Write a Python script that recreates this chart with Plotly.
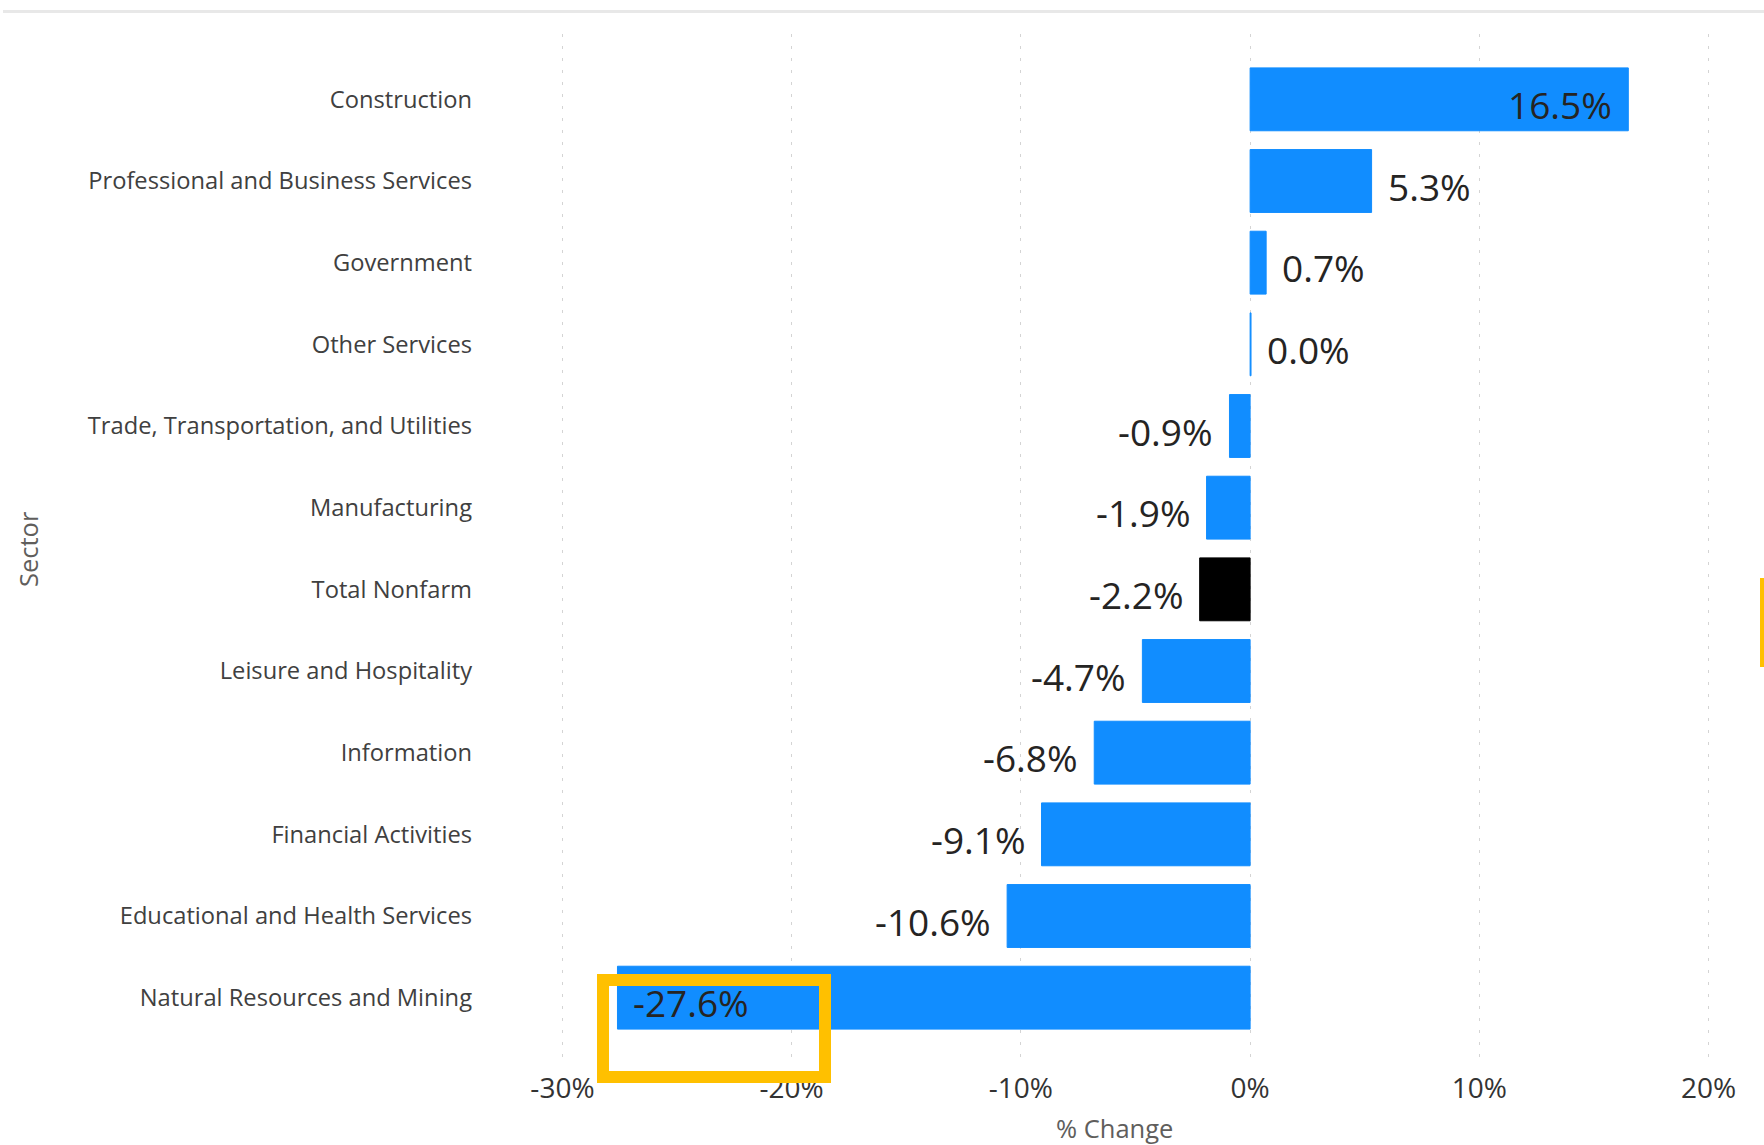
import plotly.graph_objects as go

# ---- data ----
sectors = [
    "Construction",
    "Professional and Business Services",
    "Government",
    "Other Services",
    "Trade, Transportation, and Utilities",
    "Manufacturing",
    "Total Nonfarm",
    "Leisure and Hospitality",
    "Information",
    "Financial Activities",
    "Educational and Health Services",
    "Natural Resources and Mining",
]
pct_change = [16.5, 5.3, 0.7, 0.04, -0.9, -1.9, -2.2, -4.7, -6.8, -9.1, -10.6, -27.6]
x_ticks = [-30, -20, -10, 0, 10, 20]
highlight_sector = "Total Nonfarm"

# ---- styling ----
W_FIG, H_FIG = 1764, 1145
L, R, T, B = 551, 44, 34, 82
X_RANGE = [-30.5, 20.5]
BLUE = "#118DFF"
BLACK = "#000000"
FONT = "Open Sans"
LABEL_SIZE = 37

plot_w = W_FIG - L - R
plot_h = H_FIG - T - B
px_per_unit = plot_w / (X_RANGE[1] - X_RANGE[0])


def px_x(x):
    return (x - L) / plot_w


def px_y(y):
    return (H_FIG - B - y) / plot_h


colors = [BLACK if s == highlight_sector else BLUE for s in sectors]

fig = go.Figure(
    go.Bar(
        y=sectors,
        x=pct_change,
        orientation="h",
        marker=dict(color=colors, line=dict(color=colors, width=1)),
        hoverinfo="skip",
    )
)

# data labels
annotations = []
gap = 14
for s, v in zip(sectors, pct_change):
    txt = f"{v:.1f}%"
    est_w = len(txt) * 0.55 * LABEL_SIZE
    reach = v + (1 if v >= 0 else -1) * (gap + est_w) / px_per_unit
    inside = reach > X_RANGE[1] or reach < X_RANGE[0]
    if v >= 0:
        anchor, shift = ("right", -gap) if inside else ("left", gap)
    else:
        anchor, shift = ("left", gap) if inside else ("right", -gap)
    annotations.append(
        dict(
            x=v, y=s, xref="x", yref="y", text=txt, showarrow=False,
            xanchor=anchor, xshift=shift, yshift=-5, yanchor="middle",
            font=dict(family=FONT, size=LABEL_SIZE, color="#252423"),
        )
    )

# axis titles
annotations.append(
    dict(x=px_x(1114), y=px_y(1128), xref="paper", yref="paper", text="% Change",
         showarrow=False, xanchor="center", yanchor="middle",
         font=dict(family=FONT, size=25.5, color="#605E5C"))
)
annotations.append(
    dict(x=px_x(28), y=px_y(549), xref="paper", yref="paper", text="Sector",
         showarrow=False, xanchor="center", yanchor="middle", textangle=-90,
         font=dict(family=FONT, size=25.5, color="#605E5C"))
)

shapes = [
    # top separator line
    dict(type="rect", xref="paper", yref="paper", x0=px_x(3), x1=px_x(1764),
         y0=px_y(10), y1=px_y(13), fillcolor="#E8E8E8", line=dict(width=0)),
    # yellow highlight box
    dict(type="rect", xref="paper", yref="paper", x0=px_x(603), x1=px_x(825),
         y0=px_y(980), y1=px_y(1077), line=dict(color="#FFC000", width=12),
         fillcolor="rgba(0,0,0,0)", layer="above"),
    # yellow mark at right edge
    dict(type="rect", xref="paper", yref="paper", x0=px_x(1760), x1=px_x(1764),
         y0=px_y(578), y1=px_y(667), fillcolor="#FFC000",
         line=dict(width=0), layer="above"),
]

fig.update_layout(
    width=W_FIG, height=H_FIG,
    margin=dict(l=L, r=R, t=T, b=B, pad=0),
    paper_bgcolor="white", plot_bgcolor="white",
    bargap=0.23,
    showlegend=False,
    annotations=annotations,
    shapes=shapes,
    font=dict(family=FONT),
)
fig.update_xaxes(
    range=X_RANGE, tickvals=x_ticks, ticktext=[f"{t}%" for t in x_ticks],
    showgrid=True, gridcolor="#D4D4D4", griddash="3px,9px", gridwidth=1,
    zeroline=False, showline=False, ticks="",
    tickfont=dict(family=FONT, size=28, color="#333333"),
    ticklabelstandoff=6,
)
fig.update_yaxes(
    categoryorder="array", categoryarray=sectors,
    range=[len(sectors) - 0.2, -0.8],
    showgrid=False, zeroline=False, showline=False, ticks="",
    tickfont=dict(family=FONT, size=23.7, color="#404040"),
    ticklabelstandoff=78,
)

fig.write_html(
    "out.html",
    config={"displayModeBar": False},
    post_script="document.body.style.margin='0';document.body.style.overflow='hidden';",
)
